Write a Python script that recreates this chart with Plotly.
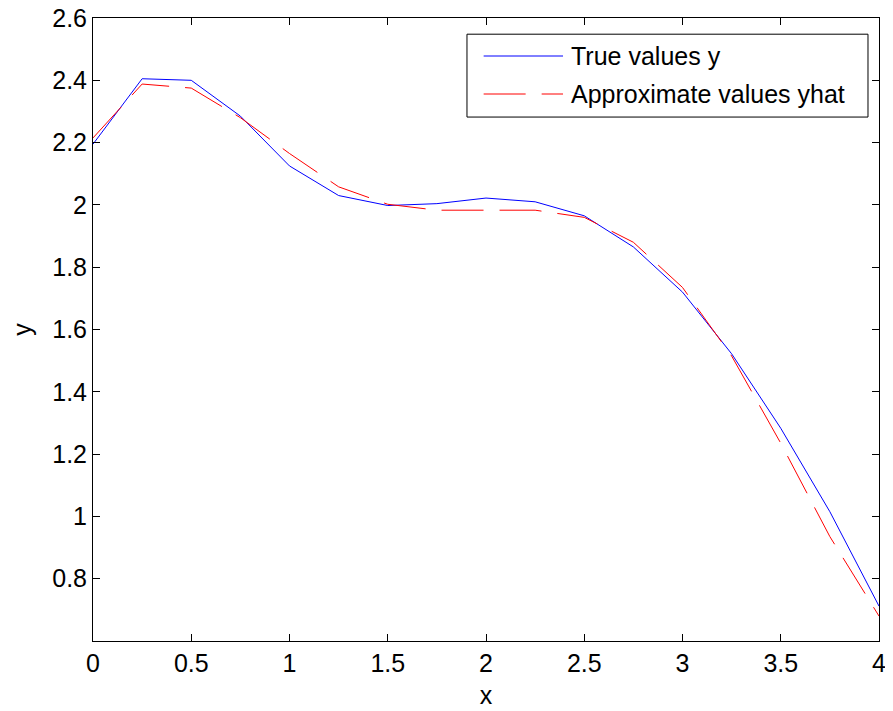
import plotly.graph_objects as go

x_vals = [0, 0.25, 0.5, 0.75, 1.0, 1.25, 1.5, 1.75, 2.0, 2.25, 2.5, 2.75, 3.0, 3.25, 3.5, 3.75, 4.0]
y_true = [2.195, 2.405, 2.400, 2.285, 2.125, 2.030, 1.998, 2.004, 2.022, 2.010, 1.965, 1.865, 1.720, 1.522, 1.283, 1.015, 0.712]
y_hat = [2.215, 2.388, 2.375, 2.280, 2.165, 2.058, 2.002, 1.983, 1.983, 1.983, 1.960, 1.880, 1.735, 1.515, 1.235, 0.935, 0.680]
names = ["True values y", "Approximate values yhat"]
x_ticks = [0, 0.5, 1, 1.5, 2, 2.5, 3, 3.5, 4]
x_ticktext = ["0", "0.5", "1", "1.5", "2", "2.5", "3", "3.5", "4"]
y_ticks = [0.8, 1.0, 1.2, 1.4, 1.6, 1.8, 2.0, 2.2, 2.4, 2.6]
y_ticktext = ["0.8", "1", "1.2", "1.4", "1.6", "1.8", "2", "2.2", "2.4", "2.6"]

FONT = "Liberation Sans, Arial, Helvetica, sans-serif"
FS = 25
DASH = "42px,16px"

fig = go.Figure()
fig.add_trace(go.Scatter(x=x_vals, y=y_true, mode="lines", name=names[0],
                         line=dict(color="#0000FF", width=1), showlegend=False))
fig.add_trace(go.Scatter(x=x_vals, y=y_hat, mode="lines", name=names[1],
                         line=dict(color="#FF0000", width=1, dash=DASH), showlegend=False))

axis_common = dict(showline=True, linecolor="black", linewidth=1, mirror="ticks",
                   ticks="inside", ticklen=7, tickcolor="black", showgrid=False,
                   zeroline=False, automargin=False, ticklabeloverflow="allow",
                   tickfont=dict(family=FONT, size=FS, color="black"))

fig.update_xaxes(range=[0, 4], tickvals=x_ticks, ticktext=x_ticktext,
                 title=dict(text="x", font=dict(family=FONT, size=FS, color="black"), standoff=10),
                 **axis_common)
fig.update_yaxes(range=[0.6, 2.6], tickvals=y_ticks, ticktext=y_ticktext,
                 title=dict(text="y", font=dict(family=FONT, size=FS, color="black"), standoff=18),
                 **axis_common)

# Legend box drawn in MATLAB style
lx0, lx1, ly0, ly1 = 0.4758, 0.986, 0.841, 0.974
fig.add_shape(type="rect", xref="paper", yref="paper", x0=lx0, x1=lx1, y0=ly0, y1=ly1,
              line=dict(color="black", width=1), fillcolor="white", layer="above")
rows = [0.939, 0.878]
styles = [dict(color="#0000FF", width=1), dict(color="#FF0000", width=1, dash=DASH)]
for yy, st, nm in zip(rows, styles, names):
    fig.add_shape(type="line", xref="paper", yref="paper", x0=0.497, x1=0.598, y0=yy, y1=yy,
                  line=st, layer="above")
    fig.add_annotation(xref="paper", yref="paper", x=0.606, y=yy, text=nm, showarrow=False,
                       xanchor="left", yanchor="middle",
                       font=dict(family=FONT, size=FS, color="black"))

# page body adds an 8px offset; size the figure so the plot area lands where the reference has it
fig.update_layout(width=885, height=703, template="none", plot_bgcolor="white",
                  paper_bgcolor="white",
                  margin=dict(l=85, r=14, t=10, b=70), showlegend=False,
                  font=dict(family=FONT, color="black"))

fig.write_html("out.html")
